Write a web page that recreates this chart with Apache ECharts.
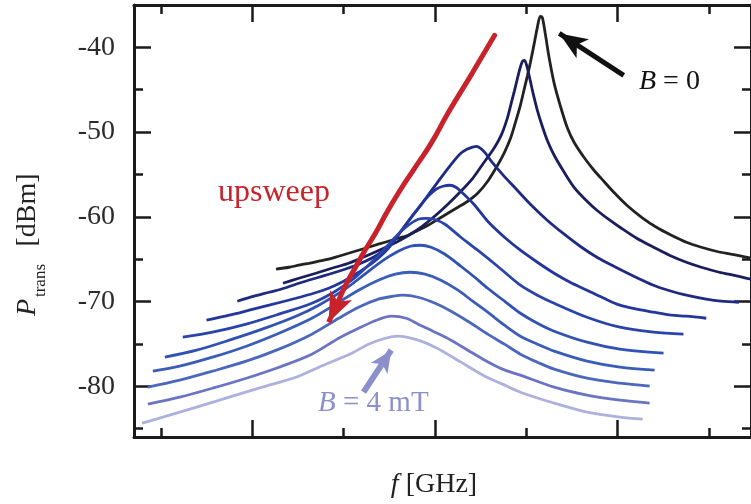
<!DOCTYPE html>
<html>
<head>
<meta charset="utf-8">
<script src="https://cdn.jsdelivr.net/npm/echarts@6.0.0/dist/echarts.min.js"></script>
<style>html,body{margin:0;padding:0;background:#fff;}#chart{width:751px;height:504px;}</style>
</head>
<body>
<div id="chart"></div>
<script>
// ---- tick values ----
const xMajorTicks = [6.0, 6.1, 6.2];
const xMinorTicks = [5.95, 6.05, 6.15, 6.25];
const yMajorTicks = [-80, -70, -60, -50, -40];
const yMinorTicks = [-85, -75, -65, -55, -45];

// ---- B = 0 (black) ----
const fB0 = [6.0130,6.0201,6.0255,6.0310,6.0364,6.0418,6.0473,6.0527,6.0582,6.0636,6.0690,6.0745,6.0799,6.0854,6.0908,6.0962,6.1017,6.1071,6.1126,6.1180,6.1234,6.1289,6.1343,6.1381,6.1414,6.1441,6.1468,6.1490,6.1507,6.1523,6.1545,6.1561,6.1577,6.1588,6.1604,6.1626,6.1653,6.1686,6.1724,6.1762,6.1816,6.1871,6.1925,6.1985,6.2051,6.2132,6.2213,6.2295,6.2377,6.2459,6.2540,6.2622,6.2709,6.2758];
const pB0 = [-66.19,-65.96,-65.72,-65.49,-65.25,-65.01,-64.66,-64.31,-63.95,-63.60,-63.24,-62.89,-62.54,-62.18,-61.59,-61.00,-60.29,-59.59,-58.88,-58.17,-57.23,-55.81,-53.92,-52.39,-50.74,-48.85,-46.84,-44.84,-43.30,-41.77,-39.41,-37.64,-36.34,-36.46,-38.35,-41.30,-44.25,-46.84,-49.44,-51.21,-52.98,-54.51,-55.81,-57.23,-58.64,-60.06,-61.24,-62.18,-63.01,-63.60,-64.07,-64.42,-64.78,-65.01];
// ---- field steps (dark -> light) ----
const f1 = [6.0168,6.0255,6.0348,6.0435,6.0527,6.0620,6.0707,6.0799,6.0892,6.0979,6.1071,6.1142,6.1207,6.1250,6.1289,6.1327,6.1365,6.1398,6.1419,6.1436,6.1452,6.1463,6.1479,6.1490,6.1501,6.1518,6.1539,6.1561,6.1588,6.1615,6.1653,6.1708,6.1762,6.1833,6.1887,6.1958,6.2013,6.2105,6.2197,6.2284,6.2377,6.2459,6.2557,6.2633,6.2709,6.2758];
const p1 = [-67.85,-67.26,-66.67,-66.08,-65.49,-64.66,-63.83,-62.89,-61.71,-60.29,-58.52,-56.99,-55.46,-54.16,-52.98,-51.80,-50.27,-48.26,-46.49,-45.07,-43.66,-42.71,-41.65,-41.53,-42.01,-43.54,-45.55,-47.43,-49.32,-50.97,-52.74,-54.75,-56.52,-58.17,-59.23,-60.41,-61.24,-62.54,-63.60,-64.54,-65.37,-65.96,-66.55,-66.90,-67.26,-67.49];
const f2 = [5.9918,6.0010,6.0092,6.0174,6.0272,6.0364,6.0473,6.0582,6.0663,6.0718,6.0783,6.0826,6.0870,6.0919,6.0962,6.1006,6.1055,6.1098,6.1142,6.1175,6.1202,6.1229,6.1250,6.1273,6.1305,6.1370,6.1436,6.1523,6.1615,6.1708,6.1795,6.1887,6.1980,6.2078,6.2197,6.2295,6.2377,6.2486,6.2567,6.2665];
const p2 = [-69.97,-69.38,-68.91,-68.44,-67.73,-67.14,-66.43,-65.60,-64.78,-63.95,-62.54,-61.36,-60.06,-58.76,-57.46,-56.17,-54.75,-53.57,-52.51,-52.04,-51.80,-51.68,-51.92,-52.39,-53.33,-54.99,-56.52,-58.52,-60.41,-62.06,-63.48,-64.78,-65.84,-66.90,-68.08,-68.79,-69.26,-69.73,-69.97,-70.09];
const f3 = [5.9749,5.9874,5.9983,6.0092,6.0239,6.0337,6.0418,6.0500,6.0582,6.0663,6.0745,6.0826,6.0908,6.0962,6.1006,6.1044,6.1082,6.1115,6.1153,6.1218,6.1289,6.1381,6.1468,6.1561,6.1653,6.1740,6.1833,6.1925,6.2013,6.2105,6.2197,6.2295,6.2377,6.2486];
const p3 = [-72.21,-71.62,-71.03,-70.44,-69.62,-69.03,-68.44,-67.61,-66.55,-65.37,-63.72,-61.36,-59.00,-57.58,-56.75,-56.40,-56.28,-56.52,-57.23,-58.64,-60.53,-62.42,-63.95,-65.37,-66.67,-67.73,-68.67,-69.62,-70.44,-70.91,-71.27,-71.62,-71.74,-71.98];
const f4 = [5.9619,5.9782,5.9967,6.0146,6.0326,6.0446,6.0544,6.0636,6.0718,6.0788,6.0854,6.0908,6.0951,6.0995,6.1055,6.1142,6.1234,6.1343,6.1468,6.1561,6.1653,6.1833,6.2013,6.2197,6.2361];
const p4 = [-74.22,-73.63,-72.68,-71.50,-70.21,-68.91,-67.49,-65.72,-63.95,-62.30,-61.00,-60.29,-60.18,-60.29,-60.88,-62.42,-63.95,-65.84,-68.08,-69.26,-70.21,-71.86,-73.04,-73.63,-73.86];
const f5 = [5.9521,5.9695,5.9874,6.0054,6.0239,6.0364,6.0500,6.0609,6.0718,6.0799,6.0865,6.0919,6.0979,6.1055,6.1142,6.1218,6.1289,6.1381,6.1468,6.1561,6.1653,6.1833,6.2013,6.2252];
const p5 = [-76.58,-75.75,-74.57,-73.27,-71.74,-70.44,-68.67,-66.90,-65.13,-64.07,-63.48,-63.36,-63.60,-64.42,-65.84,-67.14,-68.44,-69.97,-71.39,-72.57,-73.51,-74.81,-75.63,-76.11];
const f6 = [5.9455,5.9602,5.9782,5.9967,6.0146,6.0326,6.0473,6.0582,6.0690,6.0783,6.0865,6.0946,6.1033,6.1126,6.1207,6.1289,6.1381,6.1468,6.1561,6.1653,6.1833,6.2013,6.2203];
const p6 = [-78.23,-77.64,-76.58,-75.28,-73.75,-71.98,-70.09,-68.67,-67.49,-66.78,-66.55,-66.78,-67.49,-68.67,-69.97,-71.27,-72.80,-74.10,-75.04,-75.87,-77.05,-77.76,-78.11];
const f7 = [5.9428,5.9602,5.9782,5.9967,6.0146,6.0326,6.0473,6.0582,6.0690,6.0772,6.0826,6.0908,6.1001,6.1088,6.1180,6.1289,6.1381,6.1468,6.1561,6.1653,6.1833,6.2013,6.2176];
const p7 = [-80.12,-79.29,-78.23,-77.05,-75.63,-73.86,-71.98,-70.68,-69.73,-69.38,-69.26,-69.50,-70.21,-71.15,-72.33,-73.86,-75.04,-76.22,-77.17,-77.99,-79.06,-79.65,-80.00];
const f8 = [5.9428,5.9602,5.9782,5.9967,6.0146,6.0326,6.0473,6.0582,6.0680,6.0761,6.0843,6.0908,6.1001,6.1088,6.1180,6.1273,6.1370,6.1468,6.1653,6.1833,6.2013,6.2176];
const p8 = [-82.12,-81.30,-80.24,-79.06,-77.76,-76.22,-74.34,-73.16,-72.21,-71.74,-71.98,-72.68,-73.63,-74.57,-75.75,-76.93,-77.99,-78.70,-80.12,-81.06,-81.65,-82.00];
const f9 = [5.9396,5.9510,5.9695,5.9874,6.0054,6.0239,6.0364,6.0544,6.0636,6.0729,6.0799,6.0908,6.1001,6.1088,6.1180,6.1273,6.1370,6.1468,6.1653,6.1833,6.2013,6.2138];
const p9 = [-84.37,-83.66,-82.48,-81.30,-80.12,-78.94,-77.76,-76.11,-75.04,-74.34,-74.10,-74.57,-75.40,-76.46,-77.64,-78.82,-79.76,-80.71,-82.00,-83.07,-83.66,-83.90];

// ---- annotation arrows (data coordinates, last point = tip) ----
const redArrowF = [6.1327,6.1207,6.1071,6.0979,6.0881,6.0799,6.0734,6.0674,6.0614,6.0565,6.0522,6.0473,6.0418];
const redArrowP = [-38.58,-42.95,-47.79,-51.33,-54.51,-57.23,-59.59,-61.95,-64.07,-65.96,-67.61,-69.85,-72.45];
const blackArrowF = [6.2034, 6.1681];
const blackArrowP = [-43.30, -38.35];
const purpleArrowF = [6.0609, 6.0761];
const purpleArrowP = [-80.71, -75.75];

const curveColors = ['#222222','#1b1e5c','#1f2a80','#23369b','#2a44ab','#3052b4','#3a5db8','#4b68bd','#6a74c3','#adb1dd'];
const curveF = [fB0,f1,f2,f3,f4,f5,f6,f7,f8,f9];
const curveP = [pB0,p1,p2,p3,p4,p5,p6,p7,p8,p9];

const X_MIN = 5.9352, X_MAX = 6.2731, Y_MIN = -86, Y_MAX = -35;
const SERIF = '"Liberation Serif", "Times New Roman", serif';
const AX = '#1a1a1a';

function zip(a, b){ const n = Math.min(a.length, b.length); const r = []; for (let i = 0; i < n; i++) r.push([a[i], b[i]]); return r; }

function xAxisDef(pos, ticks, len, line){
  return {type:'value', position:pos, min:X_MIN, max:X_MAX,
    axisLine:{show:line, onZero:false, lineStyle:{color:AX, width:3}},
    axisTick:{show:true, inside:true, length:len, customValues:ticks, lineStyle:{color:AX, width:2.5}},
    axisLabel:{show:false}, splitLine:{show:false}};
}
function yAxisDef(pos, ticks, len, line, labels){
  return {type:'value', position:pos, min:Y_MIN, max:Y_MAX,
    axisLine:{show:line, onZero:false, lineStyle:{color:AX, width:3}},
    axisTick:{show:true, inside:true, length:len, customValues:ticks, lineStyle:{color:AX, width:2.5}},
    axisLabel: labels ? {show:true, customValues:ticks, margin:19, color:'#2b2b2b', fontSize:28, fontFamily:SERIF} : {show:false},
    splitLine:{show:false}};
}

const series = curveF.map((f, i) => ({
  type:'line', data: zip(f, curveP[i]), symbol:'none', showSymbol:false, smooth:0.3,
  lineStyle:{color:curveColors[i], width:2.8}, silent:true, z: 3 + (i === 0 ? 0 : 1), animation:false
}));

// curved arrow body (smooth line) + head segment (straight line with arrow symbol at its end)
function arrowBody(f, p, color, width){
  return {type:'line', data: zip(f, p), symbol:'none', showSymbol:false, smooth:0.5, silent:true, z:6, animation:false,
    lineStyle:{color:color, width:width, cap:'round'}};
}
function arrowHead(f, p, color, width, head){
  const n = Math.min(f.length, p.length);
  return {type:'lines', coordinateSystem:'cartesian2d', silent:true, z:7, animation:false,
    data:[{coords: [[f[n-2], p[n-2]], [f[n-1], p[n-1]]]}], symbol:['none','arrow'], symbolSize:[0, head],
    lineStyle:{color:color, width:width, opacity:1, curveness:0}, itemStyle:{color:color}};
}
series.push(arrowBody(redArrowF.slice(0, -1), redArrowP.slice(0, -1), '#c8222b', 5));
series.push(arrowHead(redArrowF, redArrowP, '#c8222b', 5, [18, 30]));
series.push(arrowHead(blackArrowF, blackArrowP, '#111111', 5, [17, 28]));
series.push(arrowHead(purpleArrowF, purpleArrowP, '#8b90cd', 6, [15, 22]));

const chart = echarts.init(document.getElementById('chart'), null, {renderer:'canvas'});
chart.setOption({
  animation:false,
  backgroundColor:'#ffffff',
  grid:{left:134, right:-4, top:5, bottom:67, containLabel:false},
  xAxis:[ xAxisDef('bottom', xMajorTicks, 17, true), xAxisDef('bottom', xMinorTicks, 9, false),
          xAxisDef('top', xMajorTicks, 17, true), xAxisDef('top', xMinorTicks, 9, false) ],
  yAxis:[ yAxisDef('left', yMajorTicks, 17, true, true), yAxisDef('left', yMinorTicks, 9, false, false),
          yAxisDef('right', yMajorTicks, 17, true, false), yAxisDef('right', yMinorTicks, 9, false, false) ],
  series: series,
  graphic:[
    {type:'text', x:218, y:192.5, silent:true, style:{text:'upsweep', fill:'#c8222b', fontSize:32, fontFamily:SERIF, align:'left', verticalAlign:'middle'}},
    {type:'text', x:639, y:81.5, silent:true, style:{text:'{i|B} = 0', fill:'#111', fontSize:28, fontFamily:SERIF, align:'left', verticalAlign:'middle',
      rich:{i:{fontStyle:'italic', fontSize:28, fontFamily:SERIF, fill:'#111'}}}},
    {type:'text', x:318, y:403.5, silent:true, style:{text:'{i|B} = 4 mT', fill:'#8b90cd', fontSize:29, fontFamily:SERIF, align:'left', verticalAlign:'middle',
      rich:{i:{fontStyle:'italic', fontSize:29, fontFamily:SERIF, fill:'#8b90cd'}}}},
    {type:'text', x:434, y:484.5, silent:true, style:{text:'{i|f} [GHz]', fill:'#222', fontSize:28, fontFamily:SERIF, align:'center', verticalAlign:'middle',
      rich:{i:{fontStyle:'italic', fontSize:28, fontFamily:SERIF, fill:'#222'}}}},
    {type:'text', x:27.5, y:307.5, rotation:Math.PI/2, silent:true, style:{text:'P', fill:'#222', fontSize:28, fontStyle:'italic', fontFamily:SERIF, align:'center', verticalAlign:'middle'}},
    {type:'text', x:40.5, y:280.5, rotation:Math.PI/2, silent:true, style:{text:'trans', fill:'#222', fontSize:17, fontFamily:SERIF, align:'center', verticalAlign:'middle'}},
    {type:'text', x:27.5, y:210, rotation:Math.PI/2, silent:true, style:{text:'[dBm]', fill:'#222', fontSize:28, fontFamily:SERIF, align:'center', verticalAlign:'middle'}}
  ]
});
</script>
</body>
</html>
